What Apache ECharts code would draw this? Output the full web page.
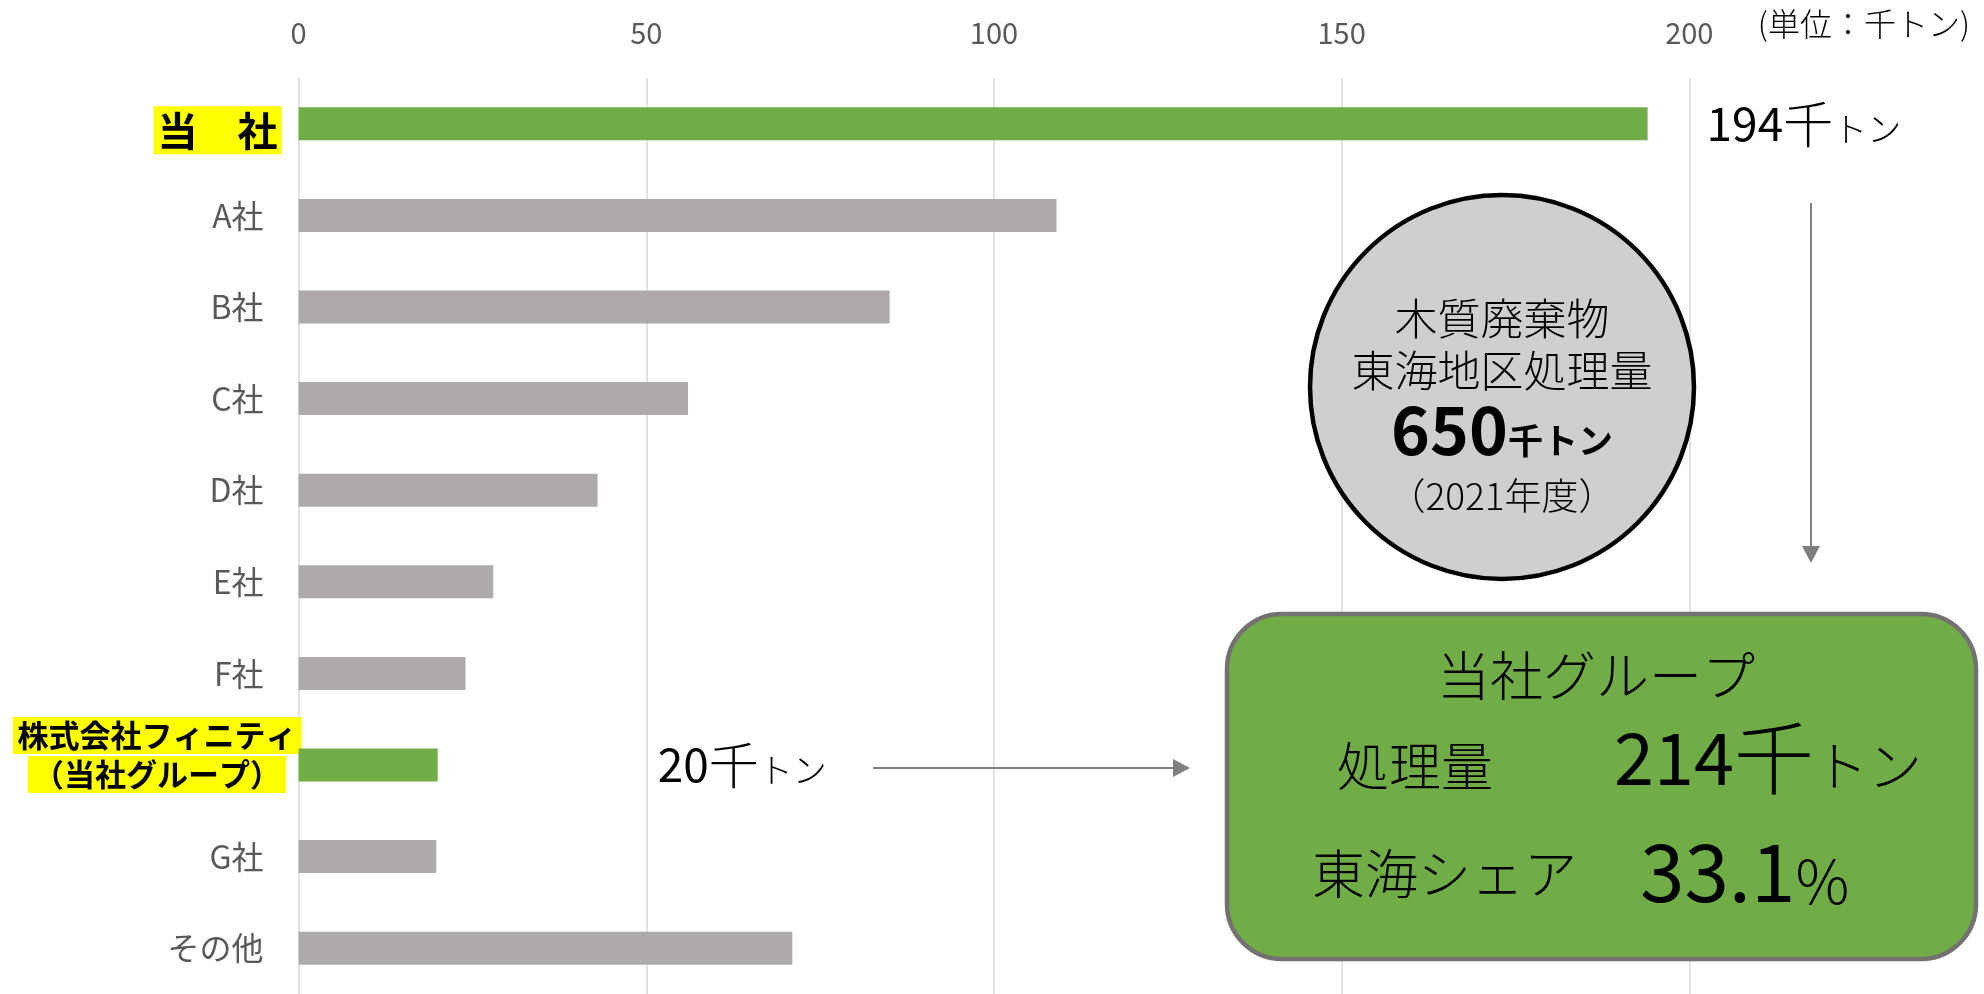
<!DOCTYPE html>
<html>
<head>
<meta charset="utf-8">
<script src="https://cdn.jsdelivr.net/npm/echarts@6/dist/echarts.min.js"></script>
<style>
  html, body { margin: 0; padding: 0; background: #ffffff; }
  #chart { width: 1984px; height: 994px; }
</style>
</head>
<body>
<div id="chart"></div>
<script>
// Wood waste processed in the Tokai region, by company (unit: thousand tonnes)
const categories = [
  '当　社', 'A社', 'B社', 'C社', 'D社', 'E社', 'F社',
  '株式会社フィニティ\n（当社グループ）', 'G社', 'その他'
];
const volumes = [194, 109, 85, 56, 43, 28, 24, 20, 19.8, 71];
const groupMember = [true, false, false, false, false, false, false, true, false, false];
const axisTicks = [0, 50, 100, 150, 200];

const FONT = '"Noto Sans CJK JP", "Noto Sans", sans-serif';
const GREEN = '#70AD47';
const GRAY = '#AEAAAA';
const ARROW = '#7F7F7F';

// value labels shown next to the group bars (category index -> gap from bar end)
const valueLabelGap = { 0: 59, 7: 220 };

const chart = echarts.init(document.getElementById('chart'), null, { renderer: 'canvas' });

function categoryLabel(name, index) {
  if (groupMember[index]) {
    const lines = name.split('\n');
    if (lines.length === 1) {
      return '{sp1| }\n{hl|' + lines[0] + '}{gapHl| }';
    }
    return lines.map(l => '{hl2|' + l + '}').join('\n') + '\n{sp2| }';
  }
  return '{n|' + name + '}{gapN| }';
}

// annotation text helper
function note(x, y, text, size, align) {
  return {
    type: 'text', x: x, y: y, z: 100,
    style: {
      text: text, fontSize: size, fontFamily: FONT, fontWeight: 300,
      fill: '#000000', align: align || 'center', verticalAlign: 'middle'
    }
  };
}

const option = {
  backgroundColor: '#ffffff',
  animation: false,
  textStyle: { fontFamily: FONT },
  grid: { left: 298.6, right: 294.7, top: 78, bottom: -3.5, containLabel: false },
  xAxis: {
    type: 'value',
    position: 'top',
    min: axisTicks[0],
    max: axisTicks[axisTicks.length - 1],
    interval: axisTicks[1] - axisTicks[0],
    axisLine: { show: false },
    axisTick: { show: false },
    splitLine: { show: true, lineStyle: { color: '#D9D9D9', width: 1.5 } },
    axisLabel: {
      margin: 31,
      fontSize: 29,
      color: '#595959',
      fontFamily: FONT,
      formatter: v => String(v)
    }
  },
  yAxis: {
    type: 'category',
    inverse: true,
    data: categories,
    axisLine: { show: false },
    axisTick: { show: false },
    splitLine: { show: false },
    axisLabel: {
      margin: -3,
      interval: 0,
      fontFamily: FONT,
      formatter: categoryLabel,
      rich: {
        n: { fontSize: 32, color: '#595959', fontFamily: FONT },
        gapN: { width: 38, fontSize: 10 },
        hl: {
          fontSize: 40, fontWeight: 'bold', color: '#000000', fontFamily: FONT,
          backgroundColor: '#FFFF00', padding: [4, 4, 4, 4]
        },
        gapHl: { width: 20, fontSize: 10 },
        sp1: { fontSize: 10, height: 13, lineHeight: 13 },
        hl2: {
          fontSize: 31, fontWeight: 'bold', color: '#000000', fontFamily: FONT,
          backgroundColor: '#FFFF00', padding: [3, 5, 3, 5], lineHeight: 39, align: 'center'
        },
        sp2: { fontSize: 10, height: 20, lineHeight: 20 }
      }
    }
  },
  series: [{
    type: 'bar',
    barWidth: 33,
    z: 2,
    data: volumes.map((v, i) => {
      const item = { value: v, itemStyle: { color: groupMember[i] ? GREEN : GRAY } };
      if (valueLabelGap[i] !== undefined) {
        item.label = { show: true, position: 'right', distance: valueLabelGap[i] };
      }
      return item;
    }),
    label: {
      show: false,
      fontFamily: FONT,
      color: '#000000',
      formatter: p => '{num|' + p.value + '}{k|千}{t|トン}',
      rich: {
        num: { fontSize: 46, color: '#000000', fontFamily: FONT, lineHeight: 50 },
        k: { fontSize: 50, color: '#000000', fontFamily: FONT, fontWeight: 300, lineHeight: 50 },
        t: { fontSize: 34, color: '#000000', fontFamily: FONT, fontWeight: 300, height: 40, verticalAlign: 'bottom' }
      }
    }
  }],
  graphic: [
    // unit note
    {
      type: 'text', right: 14, top: 8, z: 100,
      style: { text: '(単位：千トン)', fontSize: 32, fontFamily: FONT, fontWeight: 300, fill: '#000000' }
    },
    // vertical arrow: company volume -> group summary
    {
      type: 'line', z: 100,
      shape: { x1: 1811, y1: 203, x2: 1811, y2: 548 },
      style: { stroke: ARROW, lineWidth: 2 }
    },
    {
      type: 'polygon', z: 100,
      shape: { points: [[1811, 563], [1802, 546], [1820, 546]] },
      style: { fill: ARROW }
    },
    // horizontal arrow: subsidiary volume -> group summary
    {
      type: 'line', z: 100,
      shape: { x1: 873, y1: 768, x2: 1174, y2: 768 },
      style: { stroke: ARROW, lineWidth: 2 }
    },
    {
      type: 'polygon', z: 100,
      shape: { points: [[1190, 768], [1173, 759], [1173, 777]] },
      style: { fill: ARROW }
    },
    // regional total bubble
    {
      type: 'circle', z: 90,
      shape: { cx: 1502, cy: 387, r: 192 },
      style: { fill: '#D0CECE', stroke: '#000000', lineWidth: 4.5 }
    },
    note(1502, 319, '木質廃棄物', 43),
    note(1502, 371, '東海地区処理量', 43),
    {
      type: 'text', x: 1502, y: 430, z: 100,
      style: {
        text: '{big|650}{unit|千トン}', align: 'center', verticalAlign: 'middle',
        rich: {
          big: { fontSize: 66, fontWeight: 'bold', fontFamily: FONT, fill: '#000000', lineHeight: 66 },
          unit: { fontSize: 35, fontWeight: 'bold', fontFamily: FONT, fill: '#000000', height: 44, verticalAlign: 'bottom' }
        }
      }
    },
    note(1502, 496, '（2021年度）', 37),
    // group summary box
    {
      type: 'rect', z: 90,
      shape: { x: 1227, y: 614, width: 749, height: 345, r: 55 },
      style: { fill: GREEN, stroke: '#767171', lineWidth: 4.5 }
    },
    note(1596, 676, '当社グループ', 53),
    note(1337, 766, '処理量', 52, 'left'),
    {
      type: 'text', x: 1614, y: 758, z: 100,
      style: {
        text: '{num|214}{k|千}{t|トン}', align: 'left', verticalAlign: 'middle',
        rich: {
          num: { fontSize: 72, fontFamily: FONT, fill: '#000000', lineHeight: 80 },
          k: { fontSize: 80, fontFamily: FONT, fontWeight: 300, fill: '#000000', lineHeight: 80 },
          t: { fontSize: 54, fontFamily: FONT, fontWeight: 300, fill: '#000000', height: 64, verticalAlign: 'bottom' }
        }
      }
    },
    note(1312, 874, '東海シェア', 53, 'left'),
    {
      type: 'text', x: 1640, y: 872, z: 100,
      style: {
        text: '{num|33.1}{pct|%}', align: 'left', verticalAlign: 'middle',
        rich: {
          num: { fontSize: 80, fontFamily: FONT, fill: '#000000', lineHeight: 84 },
          pct: { fontSize: 60, fontFamily: FONT, fontWeight: 300, fill: '#000000', height: 66, verticalAlign: 'bottom' }
        }
      }
    }
  ]
};

chart.setOption(option);
</script>
</body>
</html>
